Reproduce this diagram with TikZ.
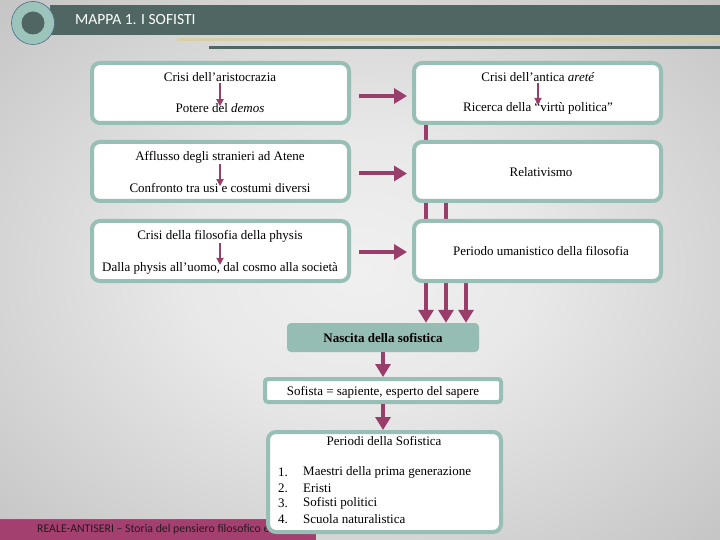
\documentclass[tikz,border=0pt]{standalone}
\usepackage{fontspec}
\setmainfont{Liberation Serif}
\newfontfamily\hdrfont{Carlito}
\usetikzlibrary{arrows.meta}
\definecolor{tealb}{HTML}{97BFB5}
\definecolor{tealf}{HTML}{96BDB4}
\definecolor{circf}{HTML}{9DC4BB}
\definecolor{hdr}{HTML}{4F6662}
\definecolor{mag}{HTML}{993D6B}
\definecolor{foot}{HTML}{A4406F}
\definecolor{footline}{HTML}{7E5A8E}
\definecolor{beige}{HTML}{D8CFA6}
\definecolor{bgin}{HTML}{F0F0F0}
\definecolor{bgout}{HTML}{BEBEBE}
\definecolor{circline}{HTML}{4A6A8A}
\pgfdeclarelayer{bg}
\pgfdeclarelayer{back}
\pgfsetlayers{bg,back,main}
\pgfdeclareradialshading{bgshade}{\pgfpoint{0bp}{0bp}}{color(0bp)=(bgin); color(12bp)=(bgin!85!bgout); color(40bp)=(bgout); color(50bp)=(bgout)}
\tikzset{
  box/.style={draw=tealb, line width=4pt, fill=white, rounded corners=8pt, inner sep=0pt},
  txt/.style={inner sep=1pt, font=\fontsize{13}{15}\selectfont},
  bigarr/.style={draw=mag, line width=4pt, -{Triangle[width=15pt,length=13pt]}},
  smallarr/.style={draw=mag, line width=1.8pt, -{Triangle[width=7pt,length=7pt]}},
}
\begin{document}
\begin{tikzpicture}[x=1pt,y=-1pt]
\useasboundingbox (0,0) rectangle (720,540);
\begin{pgfonlayer}{bg}
\shade[shading=bgshade] (0,0) rectangle (720,540);
\fill[hdr] (50,5) rectangle (720,35);
\draw[line width=3pt, beige] (177,40) -- (720,40);
\draw[line width=3pt, hdr] (209,48) -- (720,48);
\fill[circf, draw=circline, line width=0.6pt] (33,23) circle (21.5);
\fill[hdr] (33,23) circle (11.5);
\end{pgfonlayer}
\node[anchor=west, text=white, font=\hdrfont\fontsize{15.5}{17}\selectfont, inner sep=0pt] (title) at (75,20) {MAPPA 1. I SOFISTI};

% left boxes
\node[box, minimum width=257pt, minimum height=60pt] (A) at (220.5,93) {};
\node[box, minimum width=257pt, minimum height=59pt] (C) at (220.5,171.5) {};
\node[box, minimum width=257pt, minimum height=60pt] (E) at (220.5,251) {};
% right boxes
\node[box, minimum width=247pt, minimum height=60pt] (B) at (537.5,93) {};
\node[box, minimum width=247pt, minimum height=59pt] (D) at (537.5,171.5) {};
\node[box, minimum width=247pt, minimum height=60pt] (F) at (537.5,251) {};

\node[txt] (a1) at (220,77) {Crisi dell’aristocrazia};
\node[txt] (a2) at (220,108) {Potere del \textit{demos}};
\node[txt] (b1) at (538,77) {Crisi dell’antica \textit{areté}};
\node[txt] (b2) at (538,108) {Ricerca della “virtù politica”};
\node[txt] (c1) at (220,157) {Afflusso degli stranieri ad Atene};
\node[txt] (c2) at (220,188) {Confronto tra usi e costumi diversi};
\node[txt] (d1) at (541,172) {Relativismo};
\node[txt] (e1) at (220,236) {Crisi della filosofia della physis};
\node[txt] (e2) at (220,268) {Dalla physis all’uomo, dal cosmo alla società};
\node[txt] (f1) at (541,251) {Periodo umanistico della filosofia};

\draw[smallarr] (a1.south) -- ([yshift=-4pt]a2.north);
\draw[smallarr] (b1.south) -- ([yshift=-4pt]b2.north);
\draw[smallarr] (c1.south) -- ([yshift=-4pt]c2.north);
\draw[smallarr] (e1.south) -- ([yshift=-4pt]e2.north);

\draw[bigarr] ([xshift=8pt,yshift=-3pt]A.east) -- ([xshift=-5pt,yshift=-3pt]B.west);
\draw[bigarr] ([xshift=8pt,yshift=-2pt]C.east) -- ([xshift=-5pt,yshift=-2pt]D.west);
\draw[bigarr] ([xshift=8pt,yshift=-1pt]E.east) -- ([xshift=-5pt,yshift=-1pt]F.west);

% lower part
\node[fill=tealf, rounded corners=4pt, minimum width=192pt, minimum height=29pt, inner sep=0pt, font=\fontsize{13}{15}\selectfont\bfseries] (N) at (383,337.5) {Nascita della sofistica};
\node[box, rounded corners=3pt, minimum width=236pt, minimum height=23pt] (S) at (383,390.5) {};
\node[txt] (s1) at (383,392) {Sofista = sapiente, esperto del sapere};

\begin{pgfonlayer}{back}
\draw[bigarr] ([xshift=14pt]B.south west) -- ([xshift=14pt]B.south west |- N.north);
\draw[bigarr] ([xshift=34pt]D.south west) -- ([xshift=34pt]D.south west |- N.north);
\draw[bigarr] ([xshift=54pt]F.south west) -- ([xshift=54pt]F.south west |- N.north);
\end{pgfonlayer}
\draw[bigarr] (N.south) -- (S.north);

% footer
\fill[foot] (0,519) rectangle (316,540);
\draw[footline, line width=1pt] (0,519) -- (316,519);
\node[anchor=west, inner sep=0pt, text={rgb,255:red,40;green,24;blue,32}, font=\hdrfont\fontsize{11.8}{13}\selectfont] (ft) at (37,529.5) {REALE-ANTISERI – Storia del pensiero filosofico e s};

\node[box, minimum width=233pt, minimum height=100pt] (P) at (384.5,482) {};
\draw[bigarr] (S.south) -- (S.south |- P.north);
\node[txt] (p0) at (384,441) {Periodi della Sofistica};
\node[txt, anchor=west] (n1) at (277,472) {1.};
\node[txt, anchor=west] (n2) at (277,488) {2.};
\node[txt, anchor=west] (n3) at (277,503.5) {3.};
\node[txt, anchor=west] (n4) at (277,519) {4.};
\node[txt, anchor=west] (l1) at (302,472) {Maestri della prima generazione};
\node[txt, anchor=west] (l2) at (302,488) {Eristi};
\node[txt, anchor=west] (l3) at (302,503.5) {Sofisti politici};
\node[txt, anchor=west] (l4) at (302,519) {Scuola naturalistica};
\end{tikzpicture}
\end{document}
